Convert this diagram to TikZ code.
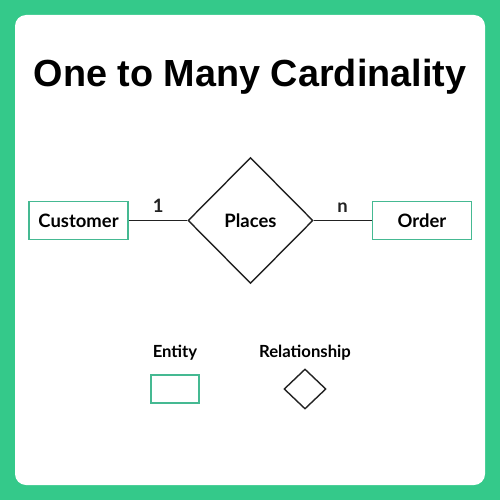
\documentclass[tikz,border=0pt]{standalone}
\usepackage{xcolor}
\usepackage{fontspec}
\setmainfont{Lato}
\newfontfamily\titlefont{Liberation Sans}
\usetikzlibrary{positioning,shapes.geometric}
\definecolor{framegreen}{HTML}{34C98A}
\definecolor{boxgreen}{HTML}{45B992}
\definecolor{inkgray}{HTML}{222222}

\begin{document}
\begin{tikzpicture}[
    x=0.02cm, y=-0.02cm,
    entity/.style={rectangle, draw=boxgreen, line width=1.1pt, fill=white, minimum width=1.98cm, minimum height=0.76cm, inner sep=0pt, font=\bfseries\fontsize{10.5}{12}\selectfont},
    relation/.style={diamond, draw=inkgray, line width=0.8pt, fill=white, minimum width=2.5cm, minimum height=2.52cm, inner sep=0pt, font=\bfseries\fontsize{10.5}{12}\selectfont},
    card/.style={font=\bfseries\fontsize{10.5}{12}\selectfont, inner sep=1pt},
    legend/.style={font=\bfseries\fontsize{9.5}{11}\selectfont}
]

% Frame
\useasboundingbox (0,0) rectangle (500,500);
\fill[framegreen] (0,0) rectangle (500,500);
\fill[white, rounded corners=0.22cm] (15,15) rectangle (485,485);

% Title
\node[font=\titlefont\bfseries\fontsize{21.5}{26}\selectfont] (title) at (250,77) {One to Many Cardinality};

% Entities and relationship
\node[relation] (places) at (250.5,220.5) {Places};
\node[entity] (customer) at (78.5,220.5) {Customer};
\node[entity] (order) at (422,220.5) {Order};

% Connections
\draw[inkgray, line width=1.1pt] (customer.east) -- node[card, above=3pt] (one) {1} (places.west);
\draw[inkgray, line width=1.1pt] (places.east) -- node[card, above=3pt] (many) {n} (order.west);

% Legend
\node[legend] (entitylabel) at (175,353) {Entity};
\node[entity, minimum width=0.96cm, minimum height=0.56cm] (entitykey) at (175,389) {};
\node[legend] (relationlabel) at (305,353) {Relationship};
\node[relation, minimum width=0.84cm, minimum height=0.8cm] (relationkey) at (305,389) {};

\end{tikzpicture}
\end{document}
